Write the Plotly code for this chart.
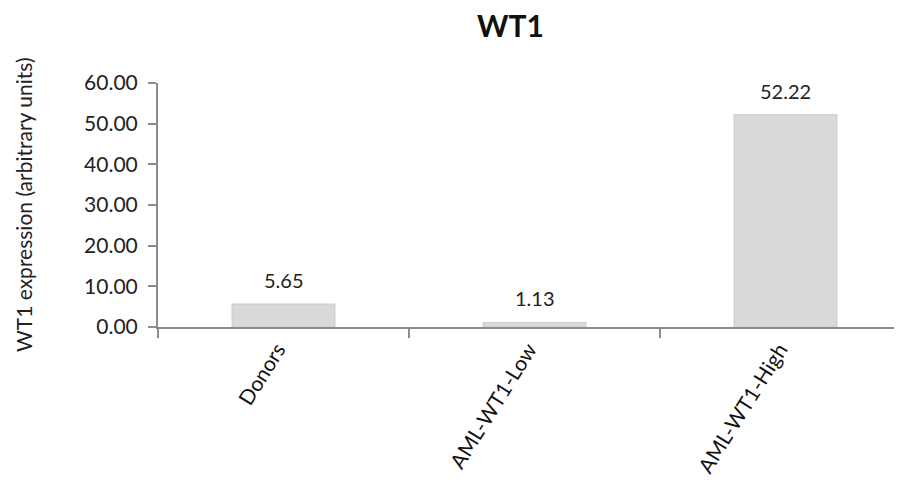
import plotly.graph_objects as go

categories = ["Donors", "AML-WT1-Low", "AML-WT1-High"]
values = [5.65, 1.13, 52.22]
labels = ["5.65", "1.13", "52.22"]
y_ticks = [0, 10, 20, 30, 40, 50, 60]
y_tick_text = ["0.00", "10.00", "20.00", "30.00", "40.00", "50.00", "60.00"]

FONT = "Lato, Liberation Sans, sans-serif"
OFF = 8  # page body margin
W, H = 902 - OFF, 489 - OFF
L, T, B = 158 - OFF, 83 - OFF, 489 - 327
PW = W - L
PH = H - T - B

fig = go.Figure()
fig.add_trace(go.Bar(
    x=categories, y=values,
    marker=dict(color="#d9d9d9", line=dict(color="#cccccc", width=1)),
    width=0.41,
))
for c, v, t in zip(categories, values, labels):
    fig.add_annotation(x=c, y=v, text=t, showarrow=False, yshift=24,
                       font=dict(family=FONT, size=20, color="#222222"))

fig.add_annotation(text="<b>WT1</b>", xref="paper", yref="paper",
                   x=(510 - 158) / PW, y=1 + (83 - 25) / PH,
                   xanchor="center", yanchor="middle", showarrow=False,
                   font=dict(family=FONT, size=30, color="#111111"))
fig.add_annotation(text="WT1 expression (arbitrary units)", xref="paper", yref="paper",
                   x=-(158 - 23) / PW, y=(327 - 205) / PH, textangle=-90,
                   xanchor="center", yanchor="middle", showarrow=False,
                   font=dict(family=FONT, size=21, color="#222222"))

fig.update_layout(
    width=W, height=H,
    margin=dict(l=L, r=0, t=T, b=B),
    paper_bgcolor="white", plot_bgcolor="white",
    showlegend=False,
    font=dict(family=FONT, size=20, color="#222222"),
)

fig.update_xaxes(
    range=[-0.5, -0.5 + PW / 251], showline=True, linecolor="#8c8c8c", linewidth=2,
    ticks="outside", tickson="boundaries", ticklen=9, tickcolor="#8c8c8c", tickwidth=2,
    tickangle=-58, ticklabelshift=-6,
    tickfont=dict(family=FONT, size=21, color="#111111"),
    showgrid=False, zeroline=False,
)
fig.update_yaxes(
    range=[0, 60], tickvals=y_ticks, ticktext=y_tick_text,
    showline=True, linecolor="#8c8c8c", linewidth=2,
    ticks="outside", ticklen=8, tickcolor="#8c8c8c", tickwidth=2,
    ticklabelstandoff=6,
    tickfont=dict(family=FONT, size=21, color="#222222"),
    showgrid=False, zeroline=False,
)

fig.write_html("out.html")
